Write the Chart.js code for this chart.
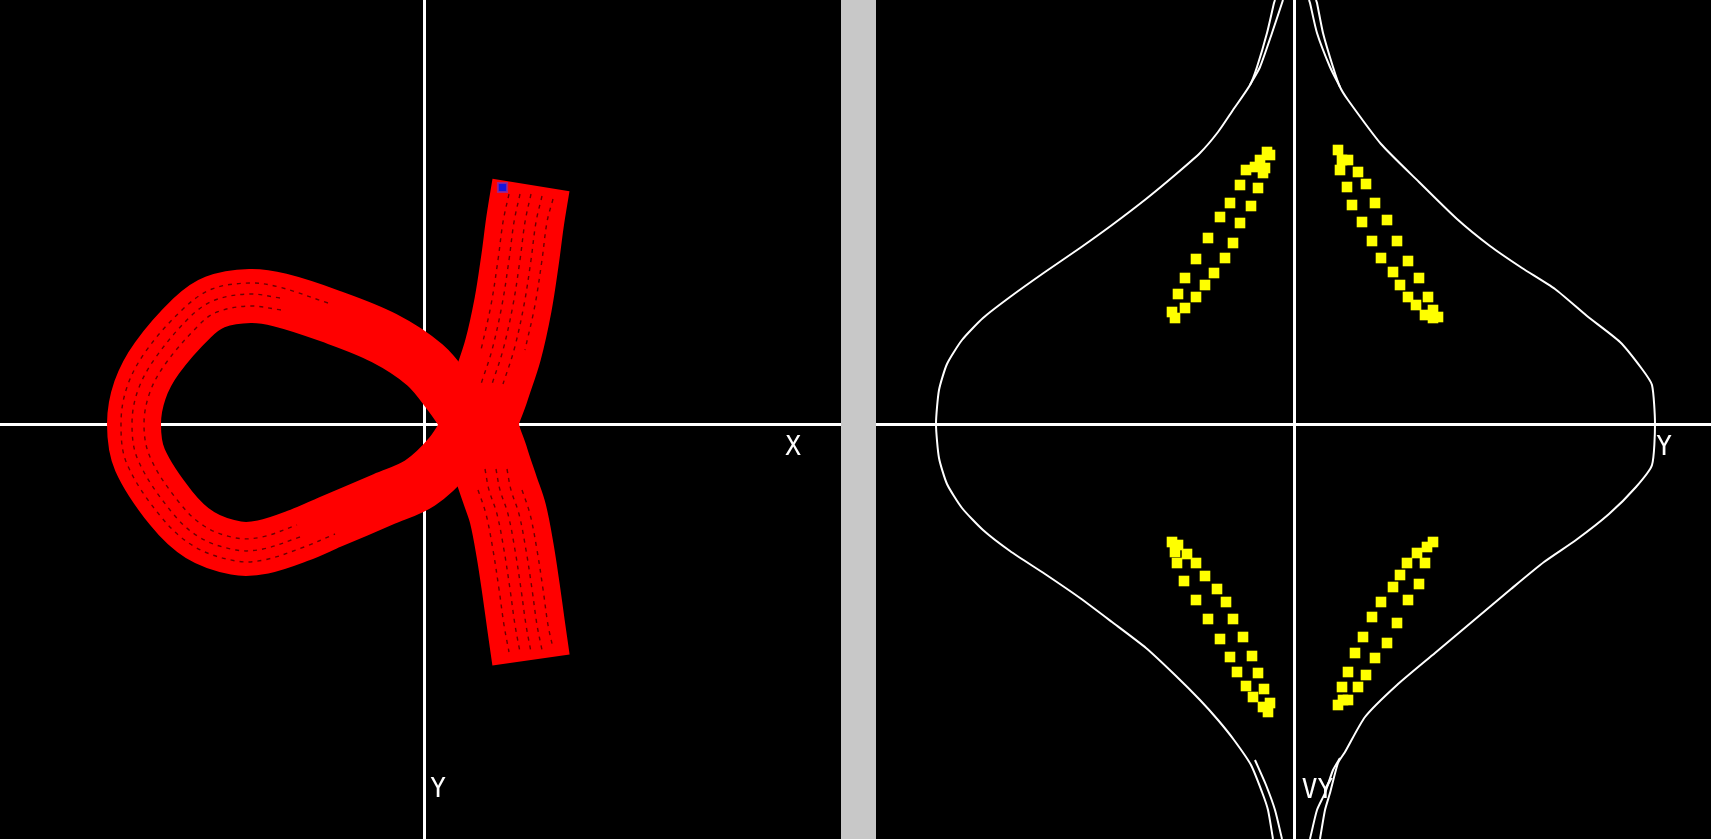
<!DOCTYPE html>
<html>
<head>
<meta charset="utf-8">
<script src="https://cdn.jsdelivr.net/npm/chart.js@4.4.1/dist/chart.umd.min.js"></script>
<style>
  html, body { margin: 0; padding: 0; background: #c8c8c8; overflow: hidden; }
  canvas { position: absolute; top: 0; }
  #orbit { left: 0; }
  #section { left: 876px; }
</style>
</head>
<body>
<canvas id="orbit" width="841" height="839"></canvas>
<canvas id="section" width="835" height="839"></canvas>
<script>
// ---------- orbit in the X–Y plane ----------
// centre line of the vertical band of the orbit (top to bottom)
const bandCentre = [
  [1.06, 2.39], [1.00, 2.02], [0.95, 1.64], [0.88, 1.19], [0.78, 0.74],
  [0.65, 0.34], [0.55, 0.00], [0.65, -0.36], [0.75, -0.66], [0.83, -0.90],
  [0.90, -1.26], [0.96, -1.65], [1.01, -2.01], [1.06, -2.36]
];
// centre line of the loop of the orbit (closed)
const loopCentre = [
  [0.45, 0.00], [0.25, 0.29], [0.00, 0.59], [-0.41, 0.86], [-0.95, 1.08],
  [-1.45, 1.24], [-1.75, 1.28], [-2.10, 1.22], [-2.33, 1.06], [-2.68, 0.66],
  [-2.85, 0.34], [-2.91, 0.00], [-2.85, -0.36], [-2.54, -0.84], [-2.25, -1.11],
  [-1.89, -1.24], [-1.62, -1.23], [-1.25, -1.11], [-0.95, -0.98], [-0.41, -0.75],
  [-0.05, -0.59], [0.25, -0.31], [0.45, 0.00]
];
// rows of sample gaps running along the band (null = solid part at the crossing)
const bandRowA = [[0.84, 2.30], [0.78, 2.02], [0.73, 1.64], [0.66, 1.19], [0.56, 0.74], null, [0.53, -0.66], [0.61, -0.90], [0.68, -1.26], [0.74, -1.65], [0.79, -2.01], [0.84, -2.28]];
const bandRowB = [[0.95, 2.30], [0.89, 2.02], [0.84, 1.64], [0.77, 1.19], [0.67, 0.74], [0.56, 0.40], null, [0.60, -0.45], [0.64, -0.66], [0.72, -0.90], [0.79, -1.26], [0.85, -1.65], [0.90, -2.01], [0.95, -2.28]];
const bandRowC = [[1.06, 2.30], [1.00, 2.02], [0.95, 1.64], [0.88, 1.19], [0.78, 0.74], [0.67, 0.40], null, [0.71, -0.45], [0.75, -0.66], [0.83, -0.90], [0.90, -1.26], [0.96, -1.65], [1.01, -2.01], [1.06, -2.28]];
const bandRowD = [[1.17, 2.28], [1.11, 2.02], [1.06, 1.64], [0.99, 1.19], [0.89, 0.74], [0.78, 0.40], null, [0.82, -0.45], [0.86, -0.66], [0.94, -0.90], [1.01, -1.26], [1.07, -1.65], [1.12, -2.01], [1.17, -2.26]];
const bandRowE = [[1.28, 2.25], [1.22, 2.02], [1.17, 1.64], [1.10, 1.19], [1.00, 0.74], null, [0.97, -0.66], [1.05, -0.90], [1.12, -1.26], [1.18, -1.65], [1.23, -2.01], [1.28, -2.24]];
const loopRowOuter = [
  [-0.97, 1.21], [-1.46, 1.37], [-1.75, 1.41], [-2.13, 1.35], [-2.42, 1.15],
  [-2.79, 0.73], [-2.98, 0.37], [-3.04, 0.00], [-2.98, -0.40], [-2.63, -0.94], [-2.30, -1.23],
  [-1.89, -1.37], [-1.61, -1.36], [-1.21, -1.23], [-0.90, -1.10]
];
const loopRowMiddle = [
  [-1.45, 1.26], [-1.75, 1.30], [-2.10, 1.24], [-2.34, 1.08], [-2.69, 0.67],
  [-2.87, 0.34], [-2.93, 0.00], [-2.87, -0.36], [-2.55, -0.86], [-2.26, -1.13],
  [-1.89, -1.26], [-1.62, -1.25], [-1.25, -1.13]
];
const loopRowInner = [
  [-1.44, 1.14], [-1.75, 1.18], [-2.08, 1.12], [-2.26, 0.99],
  [-2.59, 0.61], [-2.75, 0.32], [-2.81, 0.00], [-2.75, -0.33], [-2.47, -0.77], [-2.21, -1.02],
  [-1.89, -1.14], [-1.63, -1.13], [-1.28, -1.01]
];
// current position of the body
const bodyPoint = [[0.775, 2.365]];

// ---------- Poincaré section in the Y–VY plane ----------
const islandUpperLeft = [
  [-0.48, 2.54], [-0.54, 2.39], [-0.64, 2.21], [-0.74, 2.07], [-0.86, 1.86],
  [-0.98, 1.65], [-1.09, 1.46], [-1.16, 1.30], [-1.22, 1.12],
  [-0.27, 2.72], [-0.24, 2.69], [-0.34, 2.64], [-0.39, 2.57], [-0.29, 2.56],
  [-0.31, 2.51], [-0.36, 2.36], [-0.43, 2.18], [-0.54, 2.01], [-0.61, 1.81],
  [-0.69, 1.66], [-0.80, 1.51], [-0.89, 1.39], [-0.98, 1.27], [-1.09, 1.16],
  [-1.19, 1.06]
];
const islandUpperRight = [
  [0.44, 2.74], [0.48, 2.64], [0.46, 2.54], [0.53, 2.37], [0.58, 2.19],
  [0.68, 2.02], [0.78, 1.83], [0.87, 1.66], [0.99, 1.52], [1.06, 1.39],
  [1.14, 1.27], [1.22, 1.19], [1.31, 1.09], [1.39, 1.06],
  [0.54, 2.64], [0.64, 2.52], [0.72, 2.40], [0.81, 2.21], [0.93, 2.04],
  [1.03, 1.83], [1.14, 1.63], [1.25, 1.46], [1.34, 1.27], [1.39, 1.14],
  [1.44, 1.07]
];
const islandLowerLeft = [
  [-1.22, -1.18], [-1.19, -1.28], [-1.17, -1.39], [-1.10, -1.57], [-0.98, -1.76],
  [-0.86, -1.95], [-0.74, -2.15], [-0.64, -2.33], [-0.57, -2.48], [-0.48, -2.62],
  [-0.41, -2.73], [-0.31, -2.83], [-0.26, -2.88],
  [-1.16, -1.21], [-1.07, -1.30], [-0.98, -1.39], [-0.89, -1.52], [-0.77, -1.65],
  [-0.68, -1.78], [-0.61, -1.95], [-0.51, -2.13], [-0.42, -2.32], [-0.36, -2.49],
  [-0.30, -2.65], [-0.24, -2.79]
];
const islandLowerRight = [
  [1.39, -1.18], [1.33, -1.23], [1.23, -1.29], [1.31, -1.39], [1.25, -1.60],
  [1.14, -1.76], [1.03, -1.99], [0.93, -2.19], [0.81, -2.34], [0.72, -2.51],
  [0.64, -2.63], [0.54, -2.76],
  [1.13, -1.39], [1.06, -1.51], [0.99, -1.63], [0.87, -1.78], [0.78, -1.93],
  [0.69, -2.13], [0.61, -2.29], [0.54, -2.48], [0.48, -2.63], [0.44, -2.81],
  [0.49, -2.76]
];
// zero-velocity boundary, left and right branches (bottom to top)
const boundaryLeft = [
  [-0.21, -4.15], [-0.26, -3.86], [-0.32, -3.68], [-0.43, -3.41], [-0.60, -3.16],
  [-0.76, -2.96], [-0.94, -2.76], [-1.19, -2.51], [-1.48, -2.24], [-1.82, -1.98],
  [-2.14, -1.74], [-2.49, -1.50], [-2.84, -1.27], [-3.11, -1.06], [-3.32, -0.84],
  [-3.47, -0.60], [-3.55, -0.34], [-3.58, 0.00], [-3.55, 0.34], [-3.47, 0.60],
  [-3.32, 0.84], [-3.11, 1.06], [-2.84, 1.27], [-2.49, 1.52], [-2.14, 1.76],
  [-1.82, 1.99], [-1.48, 2.25], [-1.19, 2.49], [-0.94, 2.71], [-0.76, 2.92],
  [-0.61, 3.14], [-0.44, 3.39], [-0.37, 3.57], [-0.27, 3.91], [-0.20, 4.21],
  [-0.19, 4.24]
];
const boundaryRight = [
  [0.26, -4.15], [0.31, -3.86], [0.36, -3.69], [0.44, -3.39], [0.51, -3.28],
  [0.71, -2.93], [1.03, -2.61], [1.41, -2.29], [1.79, -1.97], [2.17, -1.65],
  [2.50, -1.38], [2.82, -1.16], [3.15, -0.90], [3.42, -0.63], [3.58, -0.41],
  [3.61, 0.00], [3.58, 0.39], [3.48, 0.55], [3.26, 0.82], [2.93, 1.08],
  [2.61, 1.35], [2.28, 1.56], [1.96, 1.78], [1.63, 2.05], [1.25, 2.42],
  [0.87, 2.80], [0.54, 3.24], [0.46, 3.37], [0.39, 3.57], [0.29, 3.91],
  [0.23, 4.21], [0.22, 4.24]
];
// second pass of the boundary near the top and bottom
const boundaryLeftTop = [[-0.44, 3.39], [-0.34, 3.57], [-0.22, 3.91], [-0.12, 4.21], [-0.11, 4.24]];
const boundaryRightTop = [[0.46, 3.37], [0.36, 3.57], [0.23, 3.91], [0.16, 4.21], [0.15, 4.24]];
const boundaryLeftBottom = [[-0.39, -3.36], [-0.28, -3.61], [-0.19, -3.86], [-0.12, -4.15]];
const boundaryRightBottom = [[0.46, -3.34], [0.39, -3.46], [0.31, -3.69], [0.23, -3.86], [0.16, -4.15]];

// axis names
const orbitLabels = [['X', 3.68, -0.31], ['Y', 0.13, -3.73]];
const sectionLabels = [['Y', 3.70, -0.31], ['VY', 0.235, -3.74]];

const toPoints = arr => arr.map(p => (p ? { x: p[0], y: p[1] } : { x: null, y: null }));

const blackBackground = {
  id: 'blackBackground',
  beforeDraw(chart) {
    const c = chart.ctx;
    c.save();
    c.fillStyle = '#000';
    c.fillRect(0, 0, chart.width, chart.height);
    c.restore();
  }
};

const axisNames = {
  id: 'axisNames',
  afterDraw(chart, args, opts) {
    const c = chart.ctx;
    const sx = chart.scales.x, sy = chart.scales.y;
    c.save();
    c.fillStyle = '#fff';
    c.font = '26px "DejaVu Sans Mono", monospace';
    c.textAlign = 'center';
    c.textBaseline = 'alphabetic';
    for (const [t, x, y] of opts.items || []) {
      c.fillText(t, sx.getPixelForValue(x), sy.getPixelForValue(y));
    }
    c.restore();
  }
};

function axisOptions(min, max, crossAxis) {
  return {
    type: 'linear', min, max,
    position: { [crossAxis]: 0 },
    ticks: { display: false },
    grid: { display: false, drawTicks: false },
    border: { display: true, color: '#fff', width: 3 }
  };
}

function baseOptions(xr, yr, labels) {
  return {
    responsive: false,
    animation: false,
    devicePixelRatio: 1,
    layout: { padding: 0, autoPadding: false },
    events: [],
    scales: {
      x: axisOptions(xr[0], xr[1], 'y'),
      y: axisOptions(yr[0], yr[1], 'x')
    },
    plugins: {
      legend: { display: false },
      tooltip: { enabled: false },
      axisNames: { items: labels }
    }
  };
}

const thread = (data, color, width, extra) => Object.assign({
  data: toPoints(data), showLine: true, borderColor: color, backgroundColor: color,
  borderWidth: width, pointRadius: 0, fill: false, spanGaps: false
}, extra || {});

const gapRow = data => thread(data, 'rgba(70,0,0,0.8)', 1.4, { tension: 0.35, borderDash: [4, 5] });

const dots = (data, color, radius, extra) => Object.assign({
  data: toPoints(data), showLine: false, pointStyle: 'rect',
  pointRadius: radius, pointBackgroundColor: color, pointBorderWidth: 0,
  backgroundColor: color, borderColor: color
}, extra || {});

new Chart(document.getElementById('orbit'), {
  type: 'scatter',
  data: {
    datasets: [
      dots(bodyPoint, '#1414dc', 6.5, { pointBorderWidth: 2, pointBorderColor: 'rgba(150,40,150,0.8)' }),
      gapRow(bandRowA), gapRow(bandRowB), gapRow(bandRowC), gapRow(bandRowD), gapRow(bandRowE),
      gapRow(loopRowOuter), gapRow(loopRowMiddle), gapRow(loopRowInner),
      thread(bandCentre, '#ff0000', 78, { tension: 0.35, borderCapStyle: 'butt', borderJoinStyle: 'round' }),
      thread(loopCentre, '#ff0000', 54, { tension: 0.35, borderCapStyle: 'round', borderJoinStyle: 'round' })
    ]
  },
  options: baseOptions([-4.25, 4.16], [-4.15, 4.24], orbitLabels),
  plugins: [blackBackground, axisNames]
});

new Chart(document.getElementById('section'), {
  type: 'scatter',
  data: {
    datasets: [
      dots(islandUpperLeft, '#ffff00', 7.5),
      dots(islandUpperRight, '#ffff00', 7.5),
      dots(islandLowerLeft, '#ffff00', 7.5),
      dots(islandLowerRight, '#ffff00', 7.5),
      thread(boundaryLeft, '#ffffff', 2, { tension: 0.2 }),
      thread(boundaryRight, '#ffffff', 2, { tension: 0.2 }),
      thread(boundaryLeftTop, '#ffffff', 2, { tension: 0.2 }),
      thread(boundaryRightTop, '#ffffff', 2, { tension: 0.2 }),
      thread(boundaryLeftBottom, '#ffffff', 2, { tension: 0.2 }),
      thread(boundaryRightBottom, '#ffffff', 2, { tension: 0.2 })
    ]
  },
  options: baseOptions([-4.18, 4.17], [-4.15, 4.24], sectionLabels),
  plugins: [blackBackground, axisNames]
});
</script>
</body>
</html>
